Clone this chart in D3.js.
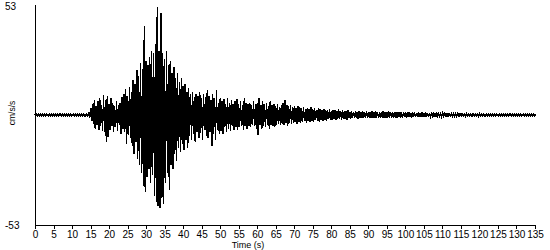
<!DOCTYPE html>
<html>
<head>
<meta charset="utf-8">
<script src="https://cdn.jsdelivr.net/npm/d3@7/dist/d3.min.js"></script>
<style>
  html, body { margin: 0; padding: 0; background: #fff; }
  svg { display: block; }
  text { font-family: "Liberation Sans", Arial, sans-serif; fill: #000; }
</style>
</head>
<body>
<svg id="chart" width="550" height="250"></svg>
<script>
// ---- data ----
const sampleStart = 0;      // seconds
const sampleStep = 0.5;     // seconds between peak pairs
// positive peak in each half-second window (cm/s/s)
const peakHigh = [
  0.45,0.45,0.45,0.45,0.45,0.45,0.45,0.45,0.45,0.45,
  0.45,0.45,0.45,0.45,0.45,0.45,0.45,0.45,0.45,0.45,
  0.45,0.45,0.45,0.45,0.45,0.45,0.45,0.45,0.5,1.5,
  3.5,5.5,7.0,4.5,6.5,8.0,5.0,9.5,7.0,9.0,
  5.5,8.0,6.0,4.5,6.5,5.0,6.0,8.5,10.0,12.5,
  9.0,13.5,11.0,17.0,15.0,21.5,19.0,25.0,22.0,43.0,
  26,24,28,31,30,34,52,31,49,30,
  27,31,24,26,20,23,18,20,16,18,
  14,15,11,13,10,11,8.5,10,9,11,
  8,10,8.5,12,9,7,10,8,12,6,
  8,6.5,7.5,5.5,8,6,7,5.5,6.5,7.5,
  5.5,6.5,5,8,6,5.5,6,5,6.5,5.5,
  6,8,5,6.5,5.5,6,4.5,6.5,5,5.5,
  4.5,5.5,4,5,6,7,5,4.5,5,4,
  4.5,3.5,4.5,4,3.5,4,3,3.5,3,4,
  3,3.5,2.5,3.5,3,2.5,3,2.5,2.5,3,
  2,2.5,2.5,2,3,2,2.5,2,2,2.5,
  1.5,1.8,1.5,2,1.6,1.8,1.4,1.9,1.5,1.7,
  1.6,1.4,1.8,1.5,1.7,1.3,1.6,1.5,1.8,1.4,
  1.5,1.7,1.3,1.6,1.4,1.5,1.3,1.4,1.2,1.4,
  1.3,1.2,1.4,1.1,1.3,1.2,1.0,1.3,1.1,1.2,
  1.0,1.2,0.9,1.0,0.8,0.9,0.7,0.9,0.8,0.7,
  0.8,0.9,0.7,0.8,0.6,0.8,0.7,0.6,0.7,0.6,
  0.6,0.5,0.5,0.6,0.5,0.5,0.5,0.5,0.5,0.5,
  0.5,0.5,0.45,0.45,0.45,0.45,0.45,0.45,0.45,0.45,
  0.45,0.45,0.45,0.45,0.45,0.45,0.45,0.45,0.45,0.45,
  0.45,0.45,0.45,0.45,0.45,0.45,0.45,0.45,0.45,0.45,
  0.45
];
// negative peak in each half-second window (cm/s/s)
const peakLow = [
  -0.45,-0.45,-0.45,-0.45,-0.45,-0.45,-0.45,-0.45,-0.45,-0.45,
  -0.45,-0.45,-0.45,-0.45,-0.45,-0.45,-0.45,-0.45,-0.45,-0.45,
  -0.45,-0.45,-0.45,-0.45,-0.45,-0.45,-0.45,-0.45,-0.5,-1.2,
  -3.0,-4.5,-6.5,-5.0,-7.0,-5.5,-7.5,-8.0,-13.0,-10.5,
  -7.0,-5.5,-8.0,-6.0,-7.5,-5.0,-9.0,-6.5,-8.0,-14.0,
  -9.5,-11,-15,-19,-13,-21,-24,-28,-34,-37,
  -30,-26,-33,-29,-39,-42,-44,-45,-40,-43,
  -33,-28,-36,-24,-26,-19,-22,-16,-18,-14,
  -17,-12,-16,-10,-12,-9,-13,-8,-11,-8.5,
  -12,-7,-10,-11,-8,-15,-9,-12,-7,-9,
  -7.5,-9,-6,-8,-6.5,-7.5,-5.5,-7,-6,-7,
  -6,-5.5,-7,-5.5,-6.5,-5.5,-6,-5,-5.5,-6.5,
  -9.5,-5,-6.5,-5.5,-6,-5,-6.5,-5,-5.5,-6,
  -5,-4.5,-5,-4.5,-5,-4,-5.5,-4,-4.5,-4,
  -3.5,-4.5,-3.5,-4,-3.5,-3,-4,-3,-3.5,-3,
  -3.5,-2.5,-3,-3.5,-2.5,-3,-2.5,-3,-2,-2.5,
  -2.5,-2,-2.5,-2,-2,-2.5,-2,-2,-2.5,-1.5,
  -2,-1.4,-1.6,-1.3,-1.7,-1.4,-1.6,-1.3,-1.5,-1.4,
  -1.3,-1.6,-1.4,-1.5,-1.2,-1.6,-1.4,-1.3,-1.5,-1.2,
  -1.4,-1.2,-1.5,-1.3,-1.2,-1.3,-1.1,-1.2,-1.3,-1.1,
  -1.2,-1.0,-1.1,-1.2,-1.0,-1.1,-0.9,-1.0,-1.1,-0.9,
  -0.9,-0.8,-1.0,-0.8,-0.7,-0.8,-0.7,-0.6,-0.7,-0.7,
  -0.7,-0.6,-0.7,-0.6,-0.6,-0.5,-0.6,-0.6,-0.5,-0.5,
  -0.5,-0.5,-0.5,-0.5,-0.5,-0.5,-0.5,-0.5,-0.5,-0.5,
  -0.5,-0.45,-0.45,-0.45,-0.45,-0.45,-0.45,-0.45,-0.45,-0.45,
  -0.45,-0.45,-0.45,-0.45,-0.45,-0.45,-0.45,-0.45,-0.45,-0.45,
  -0.45,-0.45,-0.45,-0.45,-0.45,-0.45,-0.45,-0.45,-0.45,-0.45,
  -0.45
];
const xTickValues = [0,5,10,15,20,25,30,35,40,45,50,55,60,65,70,75,80,85,90,95,100,105,110,115,120,125,130,135];
const yLimits = [-53, 53];
const xTitle = "Time (s)";
const yTitle = "cm/s/s";

// ---- drawing ----
const svg = d3.select("#chart");
const margin = { left: 35, right: 15, top: 5, bottom: 25 };
const W = 550, H = 250;

const x = d3.scaleLinear().domain([0, 135]).range([margin.left, W - margin.right]);
const y = d3.scaleLinear().domain(yLimits).range([H - margin.bottom, margin.top]);

// waveform: alternate positive / negative peak of each window
const pts = [];
peakHigh.forEach((v, i) => {
  const t = sampleStart + i * sampleStep;
  pts.push([t, v]);
  if (i < peakHigh.length - 1) pts.push([t + sampleStep / 2, peakLow[i]]);
  else pts.push([t, peakLow[i]]);
});
const line = d3.line().x(d => x(d[0])).y(d => y(d[1]));
svg.append("path")
  .datum(pts)
  .attr("d", line)
  .attr("fill", "none")
  .attr("stroke", "#000")
  .attr("stroke-width", 1.3)
  .attr("shape-rendering", "crispEdges");

// x axis
const xAxis = d3.axisBottom(x).tickValues(xTickValues).tickSize(4).tickSizeOuter(0).tickPadding(2);
const gx = svg.append("g")
  .attr("transform", `translate(0,${y(yLimits[0])})`)
  .call(xAxis);
gx.select(".domain").attr("stroke", "#000").attr("shape-rendering", "crispEdges");
gx.selectAll(".tick line").attr("stroke", "#000").attr("shape-rendering", "crispEdges");
gx.selectAll(".tick text")
  .attr("font-size", 10)
  .attr("font-family", "'Liberation Sans', Arial, sans-serif")
  .attr("fill", "#000");

// y axis line (no ticks)
svg.append("line")
  .attr("x1", x(0)).attr("x2", x(0))
  .attr("y1", y(yLimits[1])).attr("y2", y(yLimits[0]))
  .attr("stroke", "#000")
  .attr("shape-rendering", "crispEdges");

// y limit labels
svg.append("text")
  .attr("x", 5).attr("y", y(yLimits[1]) + 5)
  .attr("font-size", 10)
  .text(String(yLimits[1]));
svg.append("text")
  .attr("x", 5).attr("y", y(yLimits[0]) + 4)
  .attr("font-size", 10)
  .text(String(yLimits[0]));

// axis titles
svg.append("text")
  .attr("x", 248).attr("y", 248)
  .attr("text-anchor", "middle")
  .attr("font-size", 9)
  .text(xTitle);
svg.append("text")
  .attr("transform", `translate(15,${y(0) - 2}) rotate(-90)`)
  .attr("text-anchor", "middle")
  .attr("font-size", 8.5)
  .text(yTitle);
</script>
</body>
</html>
